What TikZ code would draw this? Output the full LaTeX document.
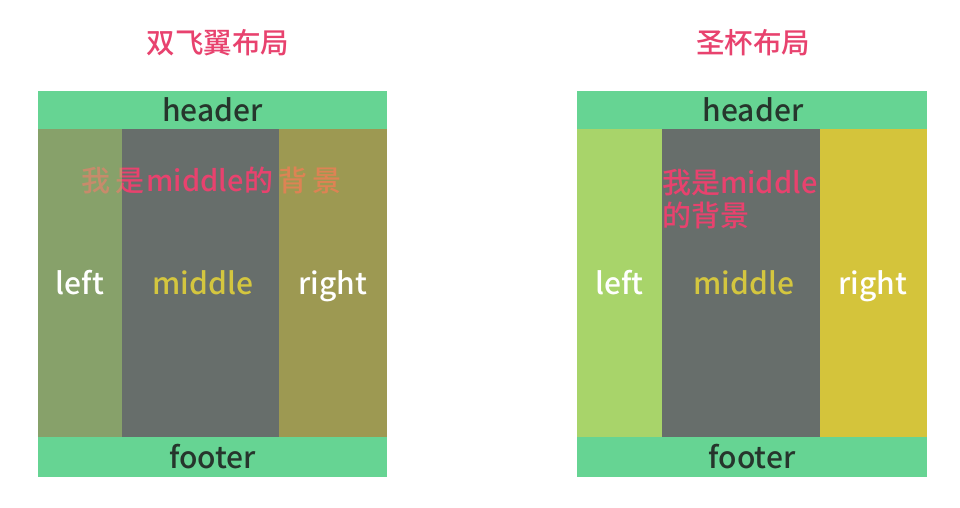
\documentclass[tikz,border=0pt]{standalone}
\usepackage{fontspec}
\setmainfont{Noto Sans CJK SC}[UprightFont={* Medium}, BoldFont={* Bold}]
\definecolor{pinkt}{HTML}{E8426E}
\definecolor{hdr}{HTML}{66D493}
\definecolor{darkt}{HTML}{26352C}
\definecolor{midgray}{HTML}{676E6B}
\definecolor{lgreen}{HTML}{A8D46A}
\definecolor{ryellow}{HTML}{D4C43B}
\definecolor{midtxt}{HTML}{D4C63F}
\tikzset{
  lbl/.style={text height=0.75em, text depth=0.2em, inner sep=0pt, yshift=-9pt},
  title/.style={lbl, text=pinkt, font=\fontsize{28.5}{32}\selectfont},
  band/.style={fill=hdr, draw=none},
  bandtxt/.style={lbl, text=darkt, font=\fontsize{30}{34}\selectfont},
  coltxt/.style={lbl, text=white, font=\fontsize{30}{34}\selectfont},
  midlbl/.style={lbl, text=midtxt, font=\fontsize{30}{34}\selectfont},
  bgtxt/.style={lbl, text=pinkt, font=\fontsize{29}{34}\selectfont},
}
\begin{document}
\begin{tikzpicture}[x=1pt,y=-1pt]
\useasboundingbox (0,0) rectangle (960,507);
\fill[white] (0,0) rectangle (960,507);
% ---------- left diagram: 双飞翼布局 ----------
\node[title] (t1) at (218,42) {双飞翼布局};
\fill[band] (38,91) rectangle (387,129);
\node[bandtxt] (h1) at (212.5,110) {header};
\fill[midgray] (38,129) rectangle (387,437);
\node[bgtxt] (bg1) at (211.5,180) {我\hspace{5pt}是\hspace{2pt}middle\hspace{1pt}的\hspace{5pt}背\hspace{5pt}景};
\fill[lgreen, opacity=0.5] (38,129) rectangle (122,437);
\fill[ryellow, opacity=0.5] (279,129) rectangle (387,437);
\node[coltxt] (l1) at (80,283) {left};
\node[midlbl] (m1) at (203,283) {middle};
\node[coltxt] (r1) at (333,283) {right};
\fill[band] (38,437) rectangle (387,477);
\node[bandtxt] (f1) at (212.5,457) {footer};
% ---------- right diagram: 圣杯布局 ----------
\node[title] (t2) at (753,42) {圣杯布局};
\fill[band] (577,91) rectangle (927,129);
\node[bandtxt] (h2) at (753,110) {header};
\fill[lgreen] (577,129) rectangle (662,437);
\fill[midgray] (662,129) rectangle (820,437);
\fill[ryellow] (820,129) rectangle (927,437);
\node[bgtxt, anchor=west] (bg2a) at (662,182) {我是middle};
\node[bgtxt, anchor=west] (bg2b) at (662,215) {的背景};
\node[coltxt] (l2) at (619.5,283) {left};
\node[midlbl] (m2) at (744,283) {middle};
\node[coltxt] (r2) at (873,283) {right};
\fill[band] (577,437) rectangle (927,477);
\node[bandtxt] (f2) at (752,457) {footer};
\end{tikzpicture}
\end{document}
